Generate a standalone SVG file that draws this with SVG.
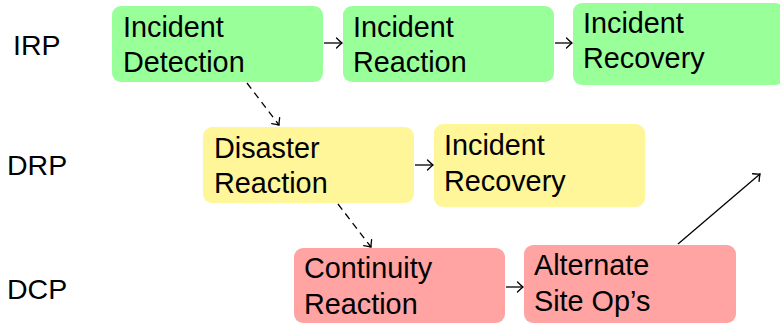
<svg xmlns="http://www.w3.org/2000/svg" width="780" height="325" viewBox="0 0 780 325">
<defs>
<style>
.t{font-family:"Liberation Sans",Arial,sans-serif;font-size:28.8px;fill:#000}
.l{font-family:"Liberation Sans",Arial,sans-serif;font-size:28.5px;fill:#000}
.g{fill:#99FF99}
.y{fill:#FFF599}
.r{fill:#FFA3A3}
.c{stroke:#000;stroke-width:1.3;fill:none;marker-end:url(#ah)}
.d{stroke-dasharray:7,5}
</style>
<marker id="ah" markerUnits="userSpaceOnUse" viewBox="-8 -6 10 12" refX="0" refY="0" markerWidth="10" markerHeight="12" orient="auto" overflow="visible">
<path d="M-5.5,-5 Q-2,-1.5 0,0 Q-2,1.5 -5.5,5" fill="none" stroke="#000" stroke-width="1.3" stroke-linecap="round"/>
</marker>
</defs>
<g id="labels">
<text class="l" x="13" y="55">IRP</text>
<text class="l" x="7" y="175">DRP</text>
<text class="l" x="7" y="299">DCP</text>
</g>
<g id="n1"><rect class="g" x="112" y="6" width="211" height="76" rx="9"/><text class="t" x="123" y="37">Incident</text><text class="t" x="123" y="72">Detection</text></g>
<g id="n2"><rect class="g" x="343" y="6" width="211" height="76" rx="9"/><text class="t" x="353" y="37">Incident</text><text class="t" x="353" y="72">Reaction</text></g>
<g id="n3"><rect class="g" x="573" y="3" width="211" height="82" rx="9"/><text class="t" x="583" y="33">Incident</text><text class="t" x="583" y="68">Recovery</text></g>
<g id="n4"><rect class="y" x="203" y="127" width="211" height="76" rx="9"/><text class="t" x="214" y="158">Disaster</text><text class="t" x="214" y="193">Reaction</text></g>
<g id="n5"><rect class="y" x="434" y="124" width="211" height="83" rx="9"/><text class="t" x="444" y="155">Incident</text><text class="t" x="444" y="191">Recovery</text></g>
<g id="n6"><rect class="r" x="294" y="248" width="211" height="75" rx="9"/><text class="t" x="304" y="278">Continuity</text><text class="t" x="304" y="314">Reaction</text></g>
<g id="n7"><rect class="r" x="524" y="245" width="212" height="78" rx="9"/><text class="t" x="534" y="275">Alternate</text><text class="t" x="534" y="311">Site Op’s</text></g>
<g id="connectors">
<line class="c" x1="324" y1="43" x2="342" y2="43"/>
<line class="c" x1="555" y1="43" x2="572" y2="43"/>
<line class="c" x1="415" y1="165" x2="433" y2="165"/>
<line class="c" x1="506" y1="287" x2="523" y2="287"/>
<line class="c d" x1="247" y1="83" x2="279" y2="125"/>
<line class="c d" x1="338" y1="204" x2="371" y2="247"/>
<line class="c" x1="678" y1="244" x2="760" y2="174"/>
</g>
</svg>
